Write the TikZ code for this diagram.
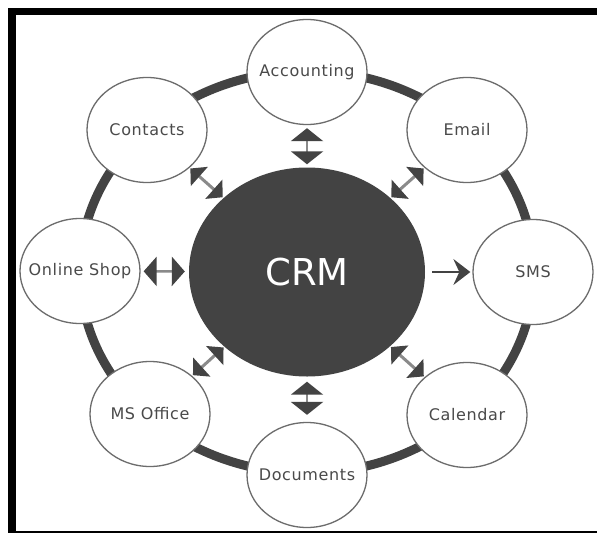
\documentclass[tikz,border=0pt]{standalone}
\usepackage{fontspec}
\setmainfont{DejaVu Sans}
\newfontfamily\satfont[LetterSpace=4]{DejaVu Sans}
\usetikzlibrary{shapes.geometric, arrows.meta}
\definecolor{crmgray}{HTML}{434343}
\definecolor{rimgray}{HTML}{6C6C6C}
\definecolor{txtgray}{HTML}{4A4A4A}
\definecolor{shaftgray}{HTML}{8A8A8A}

\begin{document}
\begin{tikzpicture}[x=1pt,y=-1pt,
    sat/.style={shape=ellipse,draw=rimgray,line width=1.3pt,fill=white,minimum width=120pt,minimum height=105pt,inner xsep=-20pt,inner ysep=0pt,text=txtgray,font=\satfont\fontsize{16}{19}\selectfont},
    hub/.style={shape=ellipse,fill=crmgray,minimum width=236pt,minimum height=209pt,inner sep=0pt,text=white,font=\fontsize{37}{40}\selectfont},
    ring/.style={draw=crmgray,line width=9pt},
    both/.style={<->,>={Triangle[length=13pt,width=32pt,color=crmgray]},line width=2.5pt,draw=shaftgray},
    diag/.style={<->,>={Triangle[length=12pt,width=25pt,color=crmgray]},line width=3pt,draw=shaftgray,shorten <=1pt,shorten >=1pt},
    one/.style={->,>={Stealth[length=17pt,width=26pt,inset=6pt,color=crmgray]},line width=2pt,draw=crmgray},
  ]
  \useasboundingbox[fill=white] (0,0) rectangle (597,533);
  % frame
  \fill[black] (8,8) rectangle (597,15);
  \fill[black] (8,8) rectangle (16,533);
  \draw[black,line width=2pt] (8,531.5) -- (597,531.5);

  % create the nodes
  \node[hub] (crm) at (307,272) {CRM};
  \draw[ring] (crm.center) ellipse [x radius=227pt,y radius=201pt];
  \node[sat] (acc) at (307,72) {Accounting};
  \node[sat] (email) at (467,130) {Email};
  \node[sat] (sms) at (533,272) {SMS};
  \node[sat] (cal) at (467,415) {Calendar};
  \node[sat] (docs) at (307,475) {Documents};
  \node[sat] (office) at (150,414) {MS Office};
  \node[sat] (shop) at (80,271) {Online Shop};
  \node[sat] (cont) at (147,130) {Contacts};

  % links to the hub
  \draw[both,shorten <=3pt,shorten >=3pt] (crm) -- (acc);
  \draw[both,shorten <=5pt,shorten >=7pt] (crm) -- (docs);
  \draw[both,>={Triangle[length=13pt,width=29pt,color=crmgray]},shorten <=4pt,shorten >=3pt] (crm) -- (shop);
  \draw[one,shorten <=7pt,shorten >=2pt] (crm) -- (sms);
  \draw[diag] (crm) -- (cont);
  \draw[diag] (crm) -- (email);
  \draw[diag] (crm) -- (cal);
  \draw[diag] (crm) -- (office);
\end{tikzpicture}
\end{document}
